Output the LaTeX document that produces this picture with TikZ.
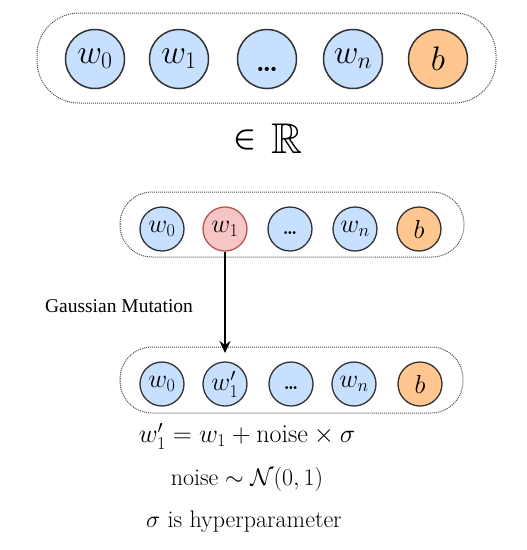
\RequirePackage{fix-cm}
\documentclass[tikz,border=0pt]{standalone}
\usepackage{amsmath,amssymb}
\usepackage{fontspec}
\usetikzlibrary{arrows.meta}
\newfontfamily\timesfont{Liberation Serif}
\definecolor{wblue}{HTML}{C8E0FF}
\definecolor{borange}{HTML}{FFC690}
\definecolor{rfill}{HTML}{F6C6C6}
\definecolor{rstroke}{HTML}{B85450}
\definecolor{cstroke}{HTML}{333333}
% #1 = dot font size, #2 = drop below circle centre, #3 = kern between dots
\newcommand{\mydots}[3]{\raisebox{-#2}[0pt][0pt]{\fontsize{#1}{#1}\selectfont\bfseries .\kern-#3.\kern-#3.}}
\begin{document}
\begin{tikzpicture}[x=1pt,y=-1pt,
  container/.style={draw=black!70,densely dotted,line width=1pt},
  bigw/.style={circle,draw=cstroke,line width=1.5pt,fill=wblue,minimum size=59pt,inner sep=0pt,font=\fontsize{34}{38}\selectfont},
  bigb/.style={bigw,fill=borange},
  smw/.style={circle,draw=cstroke,line width=1.3pt,fill=wblue,minimum size=44pt,inner sep=0pt,font=\fontsize{26}{30}\selectfont},
  smb/.style={smw,fill=borange},
  smr/.style={smw,fill=rfill,draw=rstroke},
  eqtext/.style={font=\fontsize{24}{28}\selectfont}]
\useasboundingbox (0,0) rectangle (527,550);
% top
\draw[container,rounded corners=42pt] (37,13) rectangle (496,103);
\node[bigw] (t0) at (95,59) {$w_0$};
\node[bigw] (t1) at (179,59) {$w_1$};
\node[bigw] (t2) at (267,59) {\mydots{29pt}{12.5pt}{2.5pt}};
\node[bigw] (t3) at (353,59) {$w_n$};
\node[bigb] (t4) at (438,59) {$b$};
\node[font=\fontsize{30}{34}\selectfont] (in) at (245,140) {$\boldsymbol{\in}$};
\node[font=\fontsize{43}{48}\selectfont] (R) at (287,139) {$\mathbb{R}$};
% middle
\draw[container,rounded corners=32pt] (120,192) rectangle (464,257);
\node[smw] (m0) at (162,229) {$w_0$};
\node[smr] (m1) at (225,229) {$w_1$};
\node[smw] (m2) at (290,229) {\mydots{20pt}{5pt}{2pt}};
\node[smw] (m3) at (355,229) {$w_n$};
\node[smb] (m4) at (419,229) {$b$};
% bottom
\draw[container,rounded corners=32pt] (120,347) rectangle (463,413);
\node[smw] (b0) at (162,384) {$w_0$};
\node[smw] (b1) at (225,384) {$w_1'$};
\node[smw] (b2) at (291,384) {\mydots{20pt}{5pt}{2pt}};
\node[smw] (b3) at (354,384) {$w_n$};
\node[smb] (b4) at (420,384) {$b$};
\coordinate (tip) at (225,353);
\draw[-{Stealth[length=12pt,width=11pt]},line width=1.5pt] (m1) -- (tip);
\node[font=\timesfont\fontsize{19.5}{23}\selectfont] (gm) at (119,306) {Gaussian Mutation};
% equations
\node[eqtext,font=\fontsize{26}{30}\selectfont] (e1) at (247,436) {$w_1' = w_1 + \text{noise} \times \sigma$};
\node[eqtext] (e2) at (247,479) {$\text{noise} \sim \mathcal{N}(0,1)$};
\node[eqtext] (e3) at (244,522) {$\sigma$ is hyperparameter};
\end{tikzpicture}
\end{document}
